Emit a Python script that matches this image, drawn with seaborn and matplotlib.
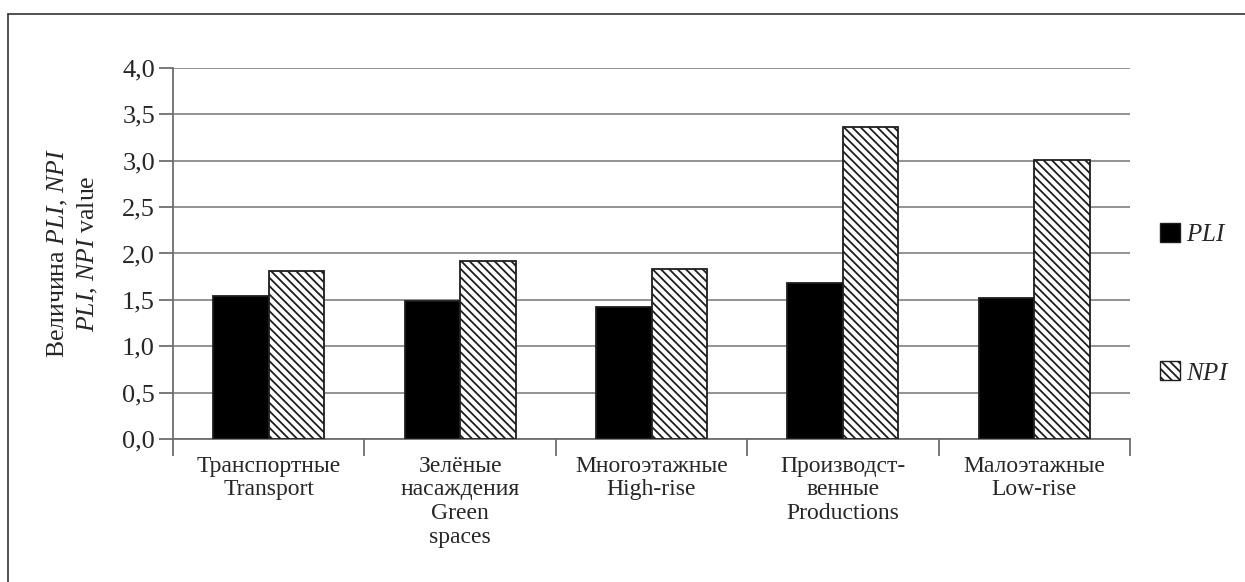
import matplotlib
matplotlib.use("Agg")
import matplotlib.pyplot as plt
import seaborn as sns
import pandas as pd
from matplotlib.patches import Patch
from matplotlib.lines import Line2D
from matplotlib.ticker import FuncFormatter, FixedLocator

categories = ["Транспортные\nTransport", "Зелёные\nнасаждения\nGreen\nspaces",
              "Многоэтажные\nHigh-rise", "Производст-\nвенные\nProductions",
              "Малоэтажные\nLow-rise"]
pli = [1.54, 1.49, 1.42, 1.68, 1.52]
npi = [1.81, 1.92, 1.83, 3.36, 3.01]
series = ["PLI", "NPI"]
yticks = [0.0, 0.5, 1.0, 1.5, 2.0, 2.5, 3.0, 3.5, 4.0]

df = pd.DataFrame({
    "cat": categories * 2,
    "val": pli + npi,
    "series": ["PLI"] * len(pli) + ["NPI"] * len(npi),
})

sns.set_style("white")
plt.rcParams["font.family"] = ["Liberation Serif", "DejaVu Serif"]
plt.rcParams["mathtext.fontset"] = "custom"
plt.rcParams["mathtext.rm"] = "Liberation Serif"
plt.rcParams["mathtext.it"] = "Liberation Serif:italic"
plt.rcParams["hatch.linewidth"] = 1.3
plt.rcParams["hatch.color"] = "#1a1a1a"

fig = plt.figure(figsize=(12.45, 5.82), dpi=100)
ax = fig.add_axes([0.139, 0.2457, 0.9076 - 0.139, 0.8832 - 0.2457])

sns.barplot(data=df, x="cat", y="val", hue="series", hue_order=series,
            palette={"PLI": "black", "NPI": "white"}, width=0.58,
            edgecolor="#1e1e1e", linewidth=1.3, legend=False, ax=ax, zorder=3)

n = len(categories)
for i, p in enumerate(ax.patches):
    if i >= n:
        p.set_hatch("\\\\\\\\")

ax.set_ylim(0, 4.0)
ax.set_xlim(-0.5, n - 0.5)
ax.set_yticks(yticks)
ax.yaxis.set_major_formatter(FuncFormatter(lambda v, _: f"{v:.1f}".replace(".", ",")))
ax.grid(axis="y", color="#8a8a8a", linewidth=1.3, zorder=0)
ax.grid(axis="x", visible=False)

for s in ["top", "right"]:
    ax.spines[s].set_visible(False)
for s in ["left", "bottom"]:
    ax.spines[s].set_color("#6e6e6e")
    ax.spines[s].set_linewidth(1.3)

ax.tick_params(axis="y", direction="out", length=10, width=1.3, color="#6e6e6e",
               labelsize=19, pad=3, left=True)
ax.set_xticks(range(n))
ax.set_xticklabels(categories, fontsize=17, linespacing=1.17)
ax.tick_params(axis="x", which="major", length=0, pad=12)
ax.xaxis.set_minor_locator(FixedLocator([i - 0.5 for i in range(n + 1)]))
ax.tick_params(axis="x", which="minor", direction="out", length=12, width=1.3,
               color="#6e6e6e", bottom=True)
ax.set_xlabel("")
ax.set_ylabel("Величина $\\mathit{PLI}$, $\\mathit{NPI}$\n$\\mathit{PLI}$, $\\mathit{NPI}$ value",
              fontsize=18.5, labelpad=16, linespacing=1.3)

handles = [Patch(facecolor="black", edgecolor="#1e1e1e", linewidth=1.0),
           Patch(facecolor="white", edgecolor="#1e1e1e", linewidth=1.0, hatch="\\\\\\\\")]
fig.legend(handles=handles, labels=["$\\mathit{PLI}$", "$\\mathit{NPI}$"],
           loc="center left", bbox_to_anchor=(0.9235, 0.478), frameon=False,
           fontsize=18, handlelength=0.8, handleheight=0.8, handletextpad=0.25,
           labelspacing=4.6, borderaxespad=0)

# outer frame (left and top edges)
fig.add_artist(Line2D([0.0065, 0.0065], [0.0, 0.976], transform=fig.transFigure,
                      color="#333333", linewidth=1.2))
fig.add_artist(Line2D([0.0065, 1.0], [0.976, 0.976], transform=fig.transFigure,
                      color="#333333", linewidth=1.2))

fig.savefig("out.png", dpi=100)
